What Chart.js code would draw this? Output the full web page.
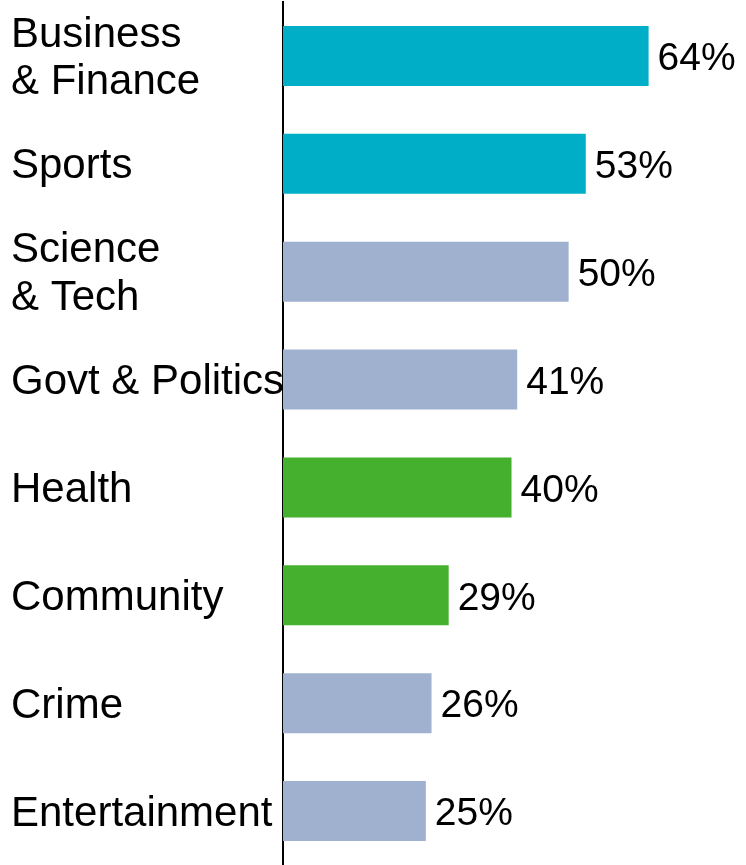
<!DOCTYPE html>
<html>
<head>
<meta charset="utf-8">
<title>Topics</title>
<script src="https://cdn.jsdelivr.net/npm/chart.js@4/dist/chart.umd.min.js"></script>
<style>
  html, body { margin: 0; padding: 0; background: #fff; }
  #wrap { width: 746px; height: 865px; }
</style>
</head>
<body>
<div id="wrap"><canvas id="topicChart" width="746" height="865"></canvas></div>
<script>
// categories, top to bottom
const topics = [
  ["Business", "& Finance"],
  "Sports",
  ["Science", "& Tech"],
  "Govt & Politics",
  "Health",
  "Community",
  "Crime",
  "Entertainment"
];
const shares = [64, 53, 50, 41, 40, 29, 26, 25];
const barColors = ["#00AFC7", "#00AFC7", "#9FB1CF", "#9FB1CF", "#45B02E", "#45B02E", "#9FB1CF", "#9FB1CF"];

const FONT = "'Liberation Sans', Arial, sans-serif";

// percent labels at the end of each bar
const valueLabels = {
  id: "valueLabels",
  afterDatasetsDraw(chart) {
    const ctx = chart.ctx;
    const meta = chart.getDatasetMeta(0);
    ctx.save();
    ctx.font = "39px " + FONT;
    ctx.fillStyle = "#000";
    ctx.textAlign = "left";
    ctx.textBaseline = "middle";
    meta.data.forEach((bar, i) => {
      ctx.fillText(shares[i] + "%", bar.x + 9, bar.y + 3.5);
    });
    ctx.restore();
  }
};

const ctx = document.getElementById("topicChart").getContext("2d");

new Chart(ctx, {
  type: "bar",
  data: {
    labels: topics,
    datasets: [{
      data: shares,
      backgroundColor: barColors,
      borderWidth: 0,
      barPercentage: 0.556,
      categoryPercentage: 1
    }]
  },
  options: {
    indexAxis: "y",
    responsive: false,
    animation: false,
    devicePixelRatio: 1,
    layout: { padding: { left: 11, right: 6, top: 2, bottom: 0 } },
    plugins: {
      legend: { display: false },
      tooltip: { enabled: false }
    },
    scales: {
      x: {
        display: false,
        min: 0,
        max: 80
      },
      y: {
        grid: { display: false },
        border: { display: true, color: "#000", width: 2 },
        ticks: {
          color: "#000",
          crossAlign: "far",
          padding: 0,
          labelOffset: 3,
          font: { family: FONT, size: 42, lineHeight: 1.14 }
        },
        afterFit(scale) {
          // labels sit inside their bands, no extra room above/below
          scale.width = 272;
          scale.paddingTop = 0;
          scale.paddingBottom = 0;
        }
      }
    }
  },
  plugins: [valueLabels]
});
</script>
</body>
</html>
